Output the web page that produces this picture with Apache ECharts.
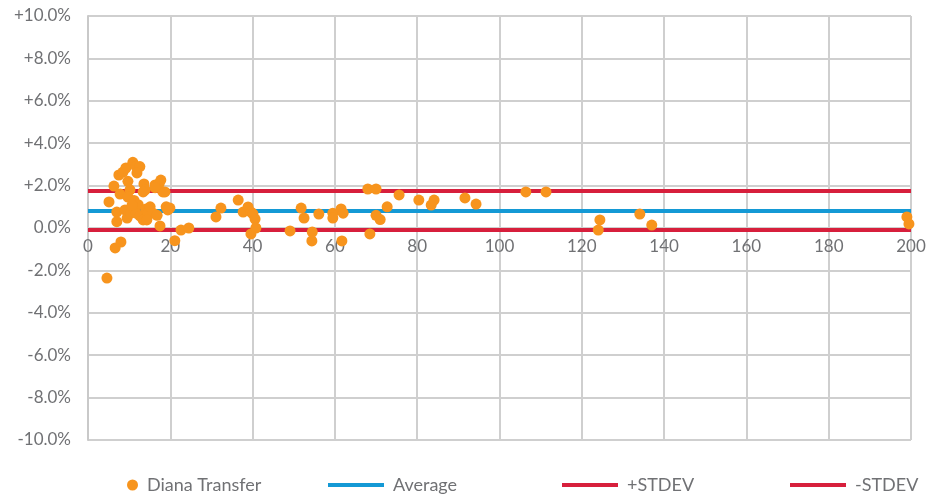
<!DOCTYPE html>
<html>
<head>
<meta charset="utf-8">
<script src="https://cdn.jsdelivr.net/npm/echarts@6/dist/echarts.min.js"></script>
<style>
html,body{margin:0;padding:0;background:#fff;}
#chart{width:932px;height:497px;}
</style>
</head>
<body>
<div id="chart"></div>
<script>
// Scatter: x values and percent values (Diana Transfer)
var transferX = [4.6,5.1,6.3,6.6,7.0,7.5,8.0,7.0,7.8,8.5,9.2,9.7,10.2,10.9,11.7,12.6,11.2,12.2,9.5,9.0,10.4,11.7,12.6,13.4,13.6,13.9,14.1,14.6,15.1,15.8,16.3,17.3,17.7,18.2,17.5,19.0,19.4,19.9,21.1,22.6,24.5,
  13.4,11.9,16.3,18.7,9.7,10.7,14.3,16.8,
  31.1,32.3,36.5,37.7,38.9,39.6,40.1,40.6,39.6,40.8,
  49.1,51.8,52.5,54.5,54.4,56.1,59.5,59.5,61.5,62.0,61.7,
  68.0,70.0,68.5,70.0,71.0,72.7,75.6,80.4,83.4,84.1,91.6,94.3,106.4,111.3,
  124.0,124.4,134.1,137.0,199.0,199.5];
var transferY = [-2.36,1.23,1.98,-0.94,0.75,2.5,-0.66,0.3,1.6,2.64,2.83,2.2,1.8,3.1,2.9,2.9,1.3,1.1,0.47,0.85,0.7,0.7,0.57,0.38,2.08,1.8,0.9,0.7,1.0,0.7,2.03,2.1,2.26,1.7,0.1,1.0,0.85,0.94,-0.6,-0.1,0.0,
  1.7,2.6,1.9,1.7,1.46,1.08,0.38,0.6,
  0.52,0.94,1.32,0.75,0.99,0.75,0.66,0.42,-0.28,0.0,
  -0.14,0.94,0.47,-0.19,-0.61,0.66,0.7,0.47,0.9,0.7,-0.61,
  1.84,1.84,-0.28,0.6,0.4,1.0,1.56,1.32,1.08,1.32,1.42,1.13,1.7,1.7,
  -0.1,0.38,0.66,0.14,0.52,0.19];
var averageValue = 0.80;
var plusStdevValue = 1.75;
var minusStdevValue = -0.09;
var lineXRange = [0, 200];
var seriesNames = ['Diana Transfer','Average','+STDEV','-STDEV'];

var scatterData = transferX.map(function(x,i){return [x, transferY[i]];});
function hline(v){ return lineXRange.map(function(x){return [x, v];}); }

var grey = '#707174';
var font = 'Lato';
var chart = echarts.init(document.getElementById('chart'), null, {renderer:'canvas'});
var legendBase = {
  top: 471, orient:'horizontal',
  textStyle:{color:grey, fontFamily:font, fontSize:18, padding:[0,0,0,4]},
  itemHeight:4, itemWidth:56, icon:'rect'
};
var plotTop = 16, plotBottom = 57, chartH = 497;
var plotH = chartH - plotTop - plotBottom;
// the x axis sits on the 0% line: halfway up the symmetric -10..+10 range
var xAxisOffset = -plotH / 2;
chart.setOption({
  backgroundColor:'#ffffff',
  animation:false,
  grid:{left:88, right:21, top:plotTop, bottom:plotBottom, containLabel:false},
  xAxis:{
    type:'value', min:0, max:200, interval:20, position:'bottom', offset:xAxisOffset,
    axisLine:{show:true, onZero:false, lineStyle:{color:'#cfcfcf', width:2}},
    axisTick:{show:false},
    axisLabel:{color:grey, fontFamily:font, fontSize:17, margin:10},
    splitLine:{show:true, lineStyle:{color:'#cfcfcf', width:2}}
  },
  yAxis:{
    type:'value', min:-10, max:10, interval:2,
    axisLine:{show:true, onZero:false, lineStyle:{color:'#c9c9c9', width:2}},
    axisTick:{show:false},
    axisLabel:{color:grey, fontFamily:font, fontSize:17, margin:17,
      formatter:function(v){ return (v>0?'+':'') + v.toFixed(1) + '%'; }},
    splitLine:{show:true, lineStyle:{color:'#cfcfcf', width:2}}
  },
  legend:[
    Object.assign({}, legendBase, {left:122, data:[seriesNames[0]], icon:'circle', itemWidth:11, itemHeight:11}),
    Object.assign({}, legendBase, {left:323, data:[seriesNames[1]]}),
    Object.assign({}, legendBase, {left:557, data:[seriesNames[2]]}),
    Object.assign({}, legendBase, {left:785, data:[seriesNames[3]]})
  ],
  series:[
    {name:seriesNames[1], type:'line', data:hline(averageValue), showSymbol:false, symbol:'none',
      lineStyle:{color:'#1499d5', width:4}, itemStyle:{color:'#1499d5'}, z:2},
    {name:seriesNames[2], type:'line', data:hline(plusStdevValue), showSymbol:false, symbol:'none',
      lineStyle:{color:'#d71f3c', width:4}, itemStyle:{color:'#d71f3c'}, z:2},
    {name:seriesNames[3], type:'line', data:hline(minusStdevValue), showSymbol:false, symbol:'none',
      lineStyle:{color:'#d71f3c', width:4}, itemStyle:{color:'#d71f3c'}, z:2},
    {name:seriesNames[0], type:'scatter', data:scatterData, symbolSize:11,
      itemStyle:{color:'#f7941d', opacity:1}, z:5}
  ]
});
</script>
</body>
</html>
